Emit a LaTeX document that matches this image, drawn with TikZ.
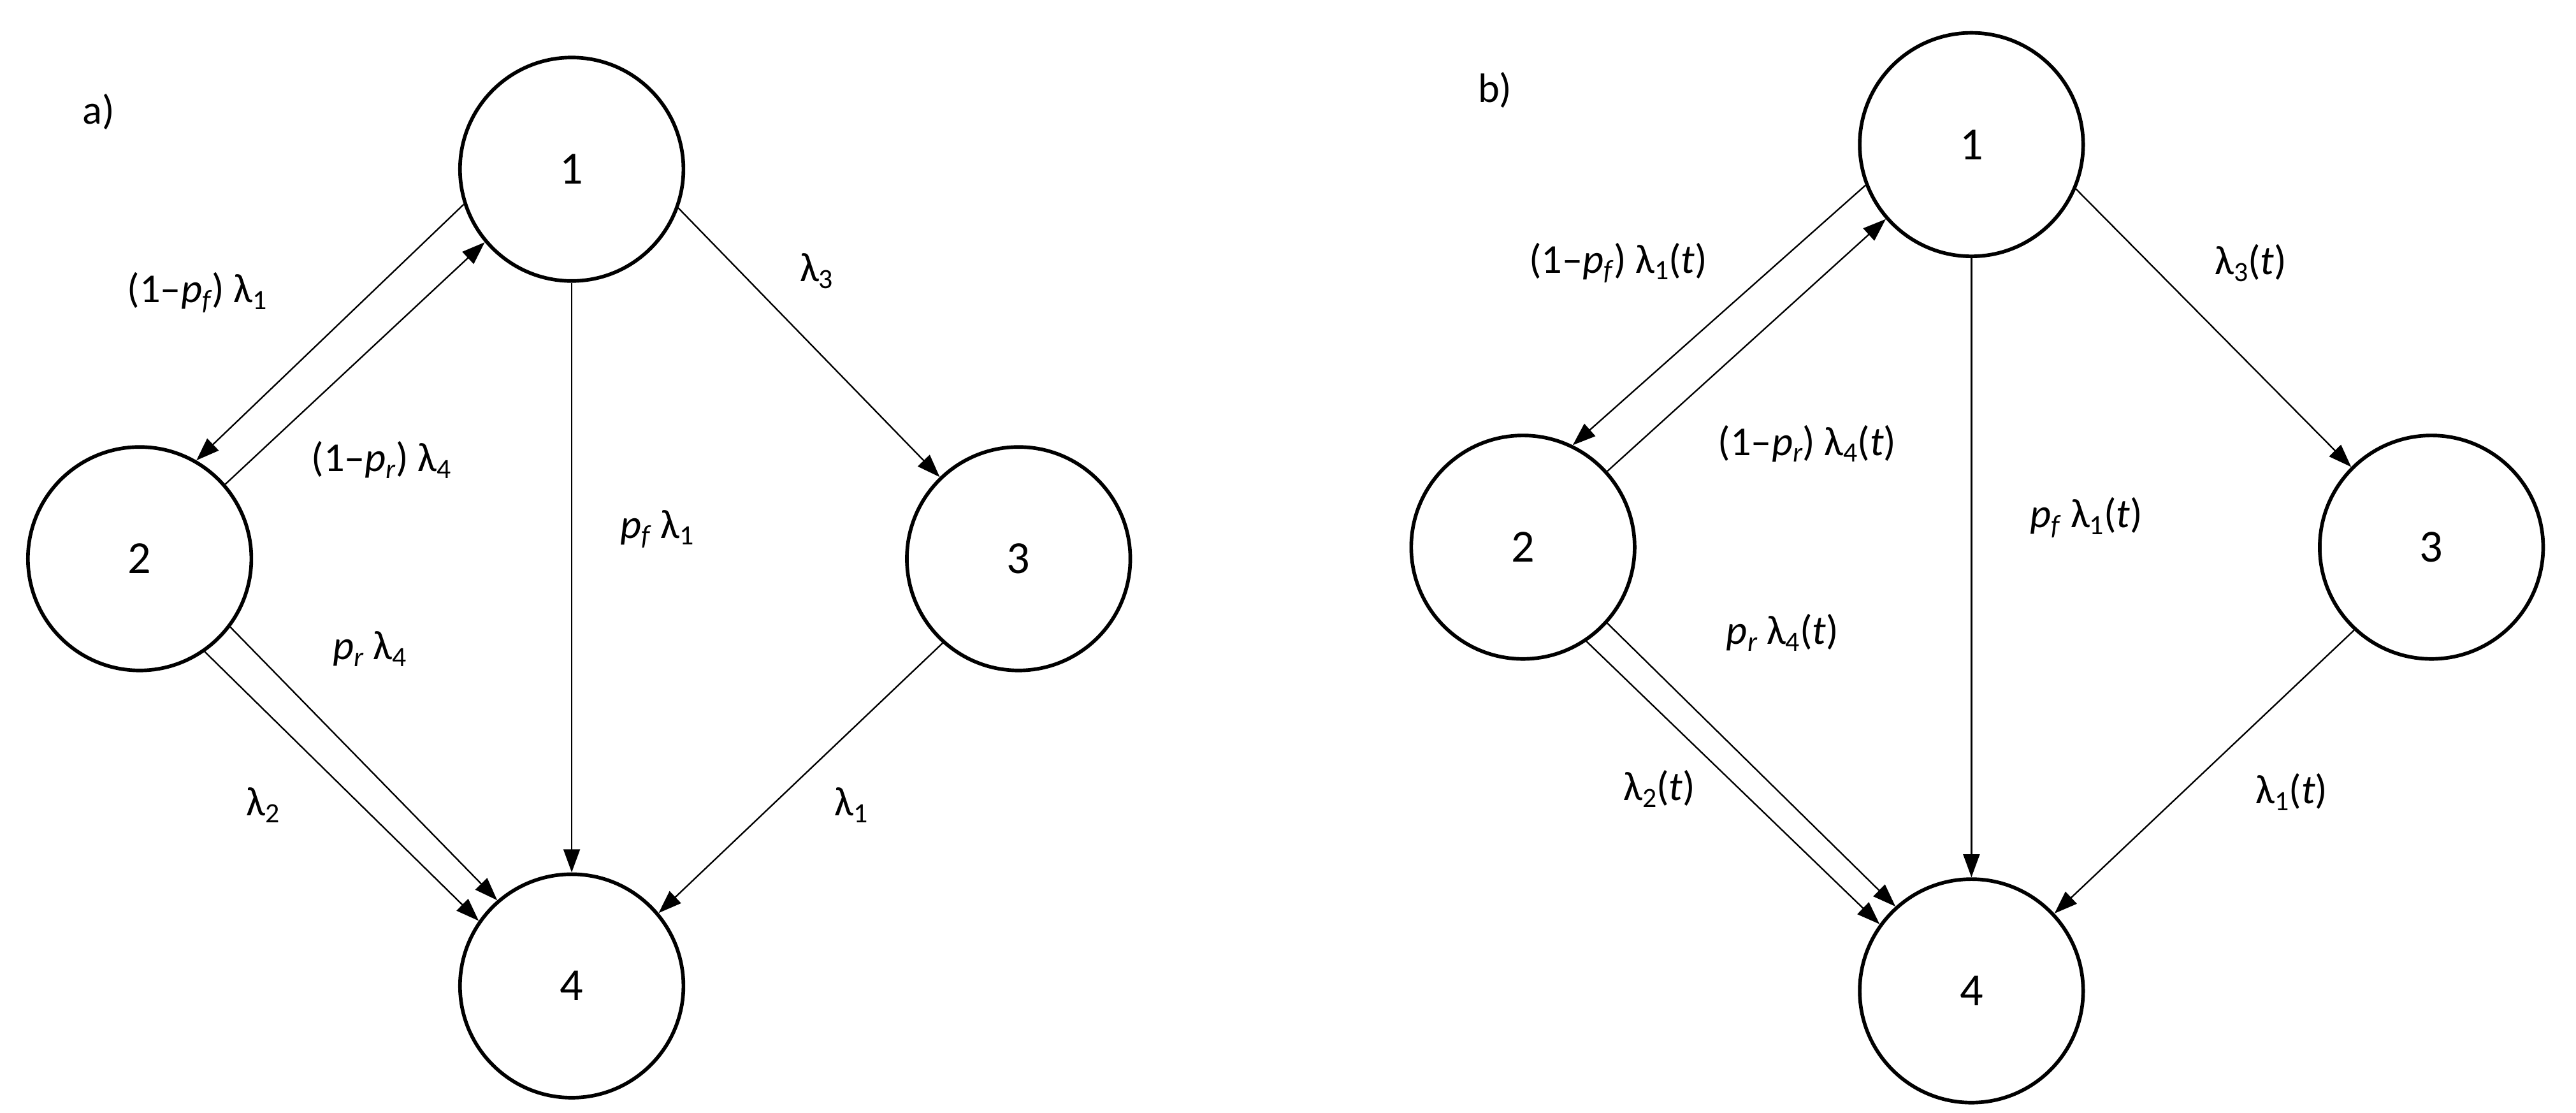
\documentclass[tikz,border=0pt]{standalone}
\usepackage{fontspec}
\setmainfont{Carlito}
\usetikzlibrary{arrows.meta}
\newcommand{\lsub}[1]{\raisebox{-0.35ex}{\fontsize{17}{17}\selectfont #1}}
\begin{document}
\begin{tikzpicture}[x=1pt,y=-1pt,
  st/.style={circle,draw,line width=2.2pt,minimum size=136pt,inner sep=0pt,font=\fontsize{28}{30}\selectfont},
  ed/.style={line width=0.9pt,-{Triangle[length=14pt,width=10pt]}},
  lb/.style={font=\fontsize{25}{28}\selectfont,inner sep=0pt}]
\useasboundingbox (0,0) rectangle (1568,677);
\fill[white] (0,0) rectangle (1568,677);
% a)
\node[lb] (la) at (60,68) {a)};
\node[st] (a1) at (348,103) {1};
\node[st] (a2) at (85,340) {2};
\node[st] (a3) at (620,340) {3};
\node[st] (a4) at (348,600) {4};
\draw[ed] (a1.198) -- (a2.60);
\draw[ed] (a2.41) -- (a1.220);
\draw[ed] (a1.south) -- (a4.north);
\draw[ed] (a1.-20) -- (a3.134);
\draw[ed] (a2.-55) -- (a4.145);
\draw[ed] (a2.-37) -- (a4.131);
\draw[ed] (a3.228) -- (a4.40);
\node[lb] (l1) at (120,178) {(1–\textit{p}\lsub{\textit{f}}) λ\lsub{1}};
\node[lb] (l2) at (232,280) {(1–\textit{p}\lsub{\textit{r}}) λ\lsub{4}};
\node[lb] (l3) at (400,322) {\textit{p}\lsub{\textit{f}} λ\lsub{1}};
\node[lb] (l4) at (497,165) {λ\lsub{3}};
\node[lb] (l5) at (225,395) {\textit{p}\lsub{\textit{r}} λ\lsub{4}};
\node[lb] (l6) at (160,490) {λ\lsub{2}};
\node[lb] (l7) at (518,490) {λ\lsub{1}};
% b)
\node[lb] (lbb) at (910,55) {b)};
\node[st] (b1) at (1200,88) {1};
\node[st] (b2) at (927,333) {2};
\node[st] (b3) at (1480,333) {3};
\node[st] (b4) at (1200,603) {4};
\draw[ed] (b1.201) -- (b2.64);
\draw[ed] (b2.42) -- (b1.221);
\draw[ed] (b1.south) -- (b4.north);
\draw[ed] (b1.-23) -- (b3.135);
\draw[ed] (b2.-56) -- (b4.144);
\draw[ed] (b2.-42) -- (b4.132);
\draw[ed] (b3.227) -- (b4.43);
\node[lb] (m1) at (985,160) {(1–\textit{p}\lsub{\textit{f}}) λ\lsub{1}(\textit{t})};
\node[lb] (m2) at (1100,270) {(1–\textit{p}\lsub{\textit{r}}) λ\lsub{4}(\textit{t})};
\node[lb] (m3) at (1270,315) {\textit{p}\lsub{\textit{f}} λ\lsub{1}(\textit{t})};
\node[lb] (m4) at (1370,160) {λ\lsub{3}(\textit{t})};
\node[lb] (m5) at (1085,385) {\textit{p}\lsub{\textit{r}} λ\lsub{4}(\textit{t})};
\node[lb] (m6) at (1010,480) {λ\lsub{2}(\textit{t})};
\node[lb] (m7) at (1395,482) {λ\lsub{1}(\textit{t})};
\end{tikzpicture}
\end{document}
